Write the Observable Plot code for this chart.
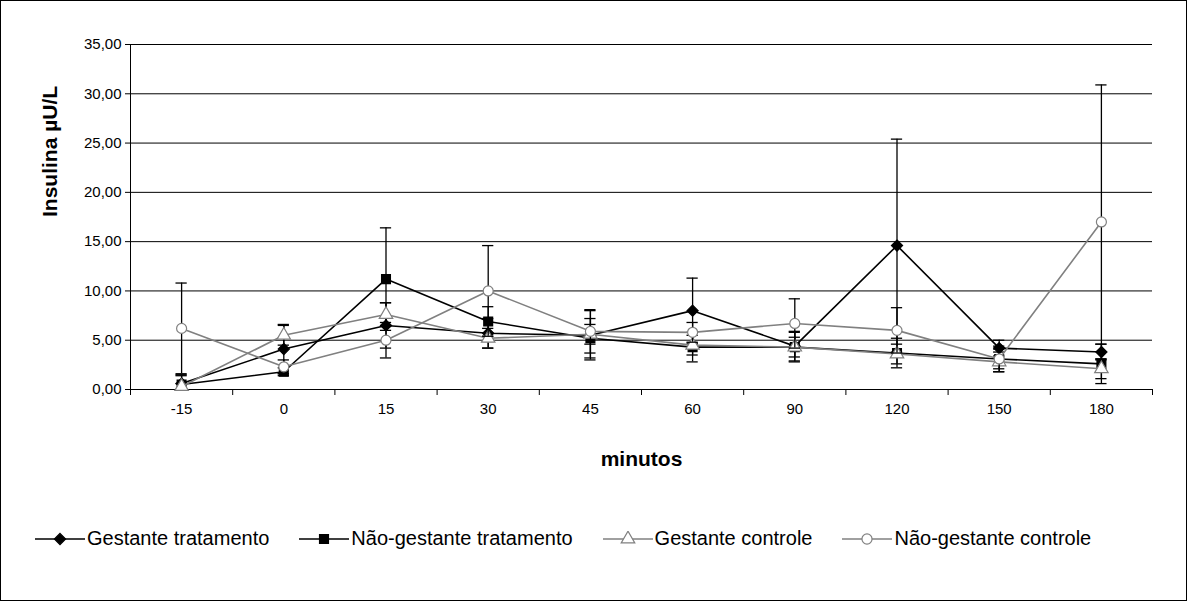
<!DOCTYPE html>
<html><head><meta charset="utf-8">
<script src="https://cdn.jsdelivr.net/npm/d3@7"></script>
<script src="https://cdn.jsdelivr.net/npm/@observablehq/plot@0.6"></script>
<style>
body{margin:0;background:#fff;font-family:"Liberation Sans",Arial,sans-serif}
#wrap{position:relative;width:1185px;height:599px;border:1px solid #000;overflow:hidden}
#legend{display:flex;margin-left:34px;margin-top:28px;font-size:20px;align-items:center}
#legend > span{display:flex;align-items:center;margin-right:30px}
</style></head><body>
<div id="wrap"><div id="chart"></div><div id="legend"></div></div>
<script>
const minutos = ["-15","0","15","30","45","60","90","120","150","180"];
const gestTrat = [0.6, 4.1, 6.5, 5.7, 5.5, 8.0, 4.4, 14.6, 4.2, 3.8];
const gestTratSd = [0.8, 2.5, 2.3, 1.5, 2.5, 3.3, 1.5, 10.8, 0.8, 0.8];
const naoTrat = [0.5, 1.8, 11.2, 6.9, 5.2, 4.3, 4.3, 3.7, 3.1, 2.6];
const naoTratSd = [1.0, 0.4, 5.2, 1.5, 2.0, 1.5, 1.5, 1.5, 1.3, 2.0];
const gestCtrl = [0.3, 5.5, 7.6, 5.2, 5.6, 4.5, 4.3, 3.6, 2.8, 2.1];
const gestCtrlSd = [0.3, 1.0, 1.2, 1.0, 1.0, 1.0, 1.0, 1.0, 1.0, 1.0];
const naoCtrl = [6.2, 2.3, 5.0, 10.0, 5.9, 5.8, 6.7, 6.0, 3.1, 17.0];
const naoCtrlSd = [4.6, 0.7, 1.8, 4.6, 2.2, 1.0, 2.5, 2.3, 1.0, 13.9];
const yTicks = [0,5,10,15,20,25,30,35];

const series = [
  {name:"Gestante tratamento", v:gestTrat, sd:gestTratSd, color:"#000", symbol:"diamond2", fill:"#000"},
  {name:"Não-gestante tratamento", v:naoTrat, sd:naoTratSd, color:"#000", symbol:"square", fill:"#000"},
  {name:"Gestante controle", v:gestCtrl, sd:gestCtrlSd, color:"#808080", symbol:"triangle", fill:"#fff"},
  {name:"Não-gestante controle", v:naoCtrl, sd:naoCtrlSd, color:"#808080", symbol:"circle", fill:"#fff"}
];
const rows = s => s.v.map((y,i) => ({i, y, lo: Math.max(0, y - s.sd[i]), hi: y + s.sd[i]}));

const marks = [
  Plot.ruleY(yTicks, {stroke:"#000", strokeWidth:1}),
  Plot.axisY({ticks:yTicks, tickFormat:d => d3.format(".2f")(d).replace(".", ","), tickSize:5, fontSize:15, label:null}),
  Plot.ruleX([-0.5], {stroke:"#000"}),
  Plot.axisX({ticks:d3.range(10), tickFormat:i => minutos[i], tickSize:0, tickPadding:14, fontSize:15, label:null}),
  Plot.axisX({ticks:d3.range(-0.5, 10, 1), tickFormat:() => "", tickSize:6, label:null}),
  Plot.text(["minutos"], {frameAnchor:"bottom", dy:76, fontSize:21, fontWeight:"bold"}),
  Plot.text(["Insulina µU/L"], {frameAnchor:"left", dx:-80, rotate:-90, fontSize:21, fontWeight:"bold"})
];
for (const s of series) {
  const d = rows(s);
  marks.push(
    Plot.ruleX(d, {x:"i", y1:"lo", y2:"hi", stroke:"#000", strokeWidth:1.3}),
    Plot.ruleY(d, {y:"hi", x1:d => d.i - 0.055, x2:d => d.i + 0.055, stroke:"#000", strokeWidth:1.3}),
    Plot.ruleY(d, {y:"lo", x1:d => d.i - 0.055, x2:d => d.i + 0.055, stroke:"#000", strokeWidth:1.3}),
    Plot.line(d, {x:"i", y:"y", stroke:s.color, strokeWidth:1.6}),
    Plot.dot(d, {x:"i", y:"y", symbol:() => s.symbol, r:5, fill:s.fill, stroke:s.color, strokeWidth:1.2})
  );
}
const chart = Plot.plot({
  width:1185, height:498,
  marginLeft:129, marginRight:34, marginTop:43, marginBottom:110,
  style:{fontFamily:"Liberation Sans, Arial, sans-serif", color:"#000", overflow:"visible"},
  x:{type:"linear", domain:[-0.5, 9.5], axis:null},
  y:{domain:[0,35], axis:null},
  symbol:{type:"identity"},
  marks
});
d3.select("#chart").append(() => chart);

const lg = d3.select("#legend");
for (const s of series) {
  const sp = lg.append("span");
  const sv = sp.append("svg").attr("width", 50).attr("height", 16);
  sv.append("line").attr("x1",0).attr("x2",50).attr("y1",8).attr("y2",8).attr("stroke",s.color).attr("stroke-width",1.6);
  const sym = {diamond2:d3.symbolDiamond2, square:d3.symbolSquare, triangle:d3.symbolTriangle, circle:d3.symbolCircle}[s.symbol];
  sv.append("path").attr("d", d3.symbol(sym, 80)()).attr("transform","translate(25,8)")
    .attr("fill", s.fill).attr("stroke", s.color).attr("stroke-width",1.2);
  sp.append("span").text(s.name).style("margin-left","2px");
}
</script></body></html>
